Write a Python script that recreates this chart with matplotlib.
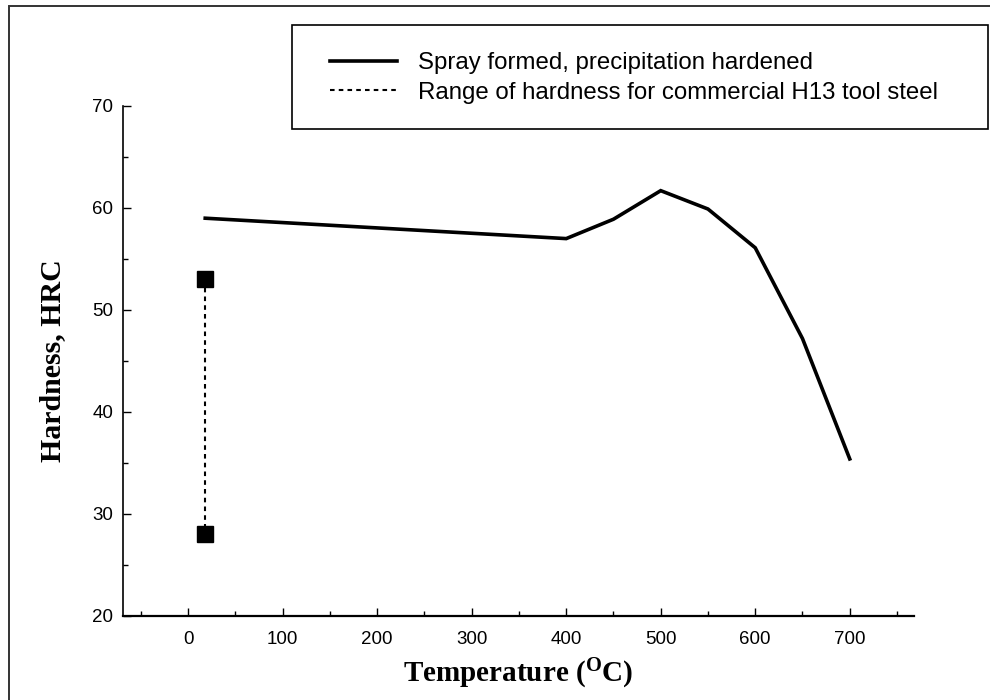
import matplotlib
matplotlib.use("Agg")
import matplotlib.pyplot as plt
from matplotlib.patches import Rectangle
from matplotlib.ticker import MultipleLocator

# ---- data ----
temp_spray = [18, 400, 450, 500, 550, 600, 650, 700]
hrc_spray = [59.0, 57.0, 58.9, 61.7, 59.9, 56.1, 47.2, 35.4]
temp_h13 = [18, 18]
hrc_h13 = [53.0, 28.0]
label_spray = "Spray formed, precipitation hardened"
label_h13 = "Range of hardness for commercial H13 tool steel"
xticks = [0, 100, 200, 300, 400, 500, 600, 700]
yticks = [20, 30, 40, 50, 60, 70]

plt.rcParams['font.family'] = ['Liberation Sans', 'DejaVu Sans']
plt.rcParams['mathtext.fontset'] = 'custom'
plt.rcParams['mathtext.rm'] = 'Liberation Serif:bold'
plt.rcParams['mathtext.it'] = 'Liberation Serif:bold'
plt.rcParams['mathtext.bf'] = 'Liberation Serif:bold'

fig = plt.figure(figsize=(9.9, 7.0), dpi=100)
ax = fig.add_axes([123/990, 1-616/700, (914-123)/990, (616-106)/700])

l1, = ax.plot(temp_spray, hrc_spray, color='black', lw=2.6, solid_joinstyle='miter')
l2, = ax.plot(temp_h13, hrc_h13, color='black', lw=1.5, linestyle=(0, (2.2, 2.0)))
ax.plot(temp_h13, hrc_h13, linestyle='none', marker='s', markersize=12,
        color='black')

ax.set_xlim(-69, 768)
ax.set_ylim(20, 70)
ax.set_xticks(xticks)
ax.set_yticks(yticks)
ax.xaxis.set_minor_locator(MultipleLocator(50))
ax.yaxis.set_minor_locator(MultipleLocator(5))
ax.tick_params(which='both', direction='in', labelsize=13.5, width=1.0)
ax.tick_params(which='major', length=6)
ax.tick_params(which='minor', length=3.5)
ax.tick_params(axis='x', pad=11)
ax.tick_params(axis='y', pad=7)
for s in ['top', 'right']:
    ax.spines[s].set_visible(False)
ax.spines['left'].set_linewidth(1.2)
ax.spines['bottom'].set_linewidth(1.6)

ax.set_xlabel(r'Temperature ($^{\mathrm{O}}$C)', fontfamily='Liberation Serif',
              fontweight='bold', fontsize=21, labelpad=6)
ax.set_ylabel('Hardness, HRC', fontfamily='Liberation Serif',
              fontweight='bold', fontsize=21.5, labelpad=19)

# legend box
fig.patches.append(Rectangle((292/990, 1-129/700), (988-292)/990, (129-25)/700,
                             transform=fig.transFigure, fill=False,
                             edgecolor='black', lw=1.2))
fig.legend([l1, l2], [label_spray, label_h13], loc='upper left',
           bbox_to_anchor=(330/990, 1-52/700), frameon=False, borderpad=0,
           borderaxespad=0, handlelength=2.8, handletextpad=0.85,
           labelspacing=0.32, fontsize=17.3)

# outer border
fig.patches.append(Rectangle((9/990, -0.05), 1.2, 1.05-6/700,
                             transform=fig.transFigure, fill=False,
                             edgecolor='#333333', lw=1.4))

fig.savefig('out.png', dpi=100)
